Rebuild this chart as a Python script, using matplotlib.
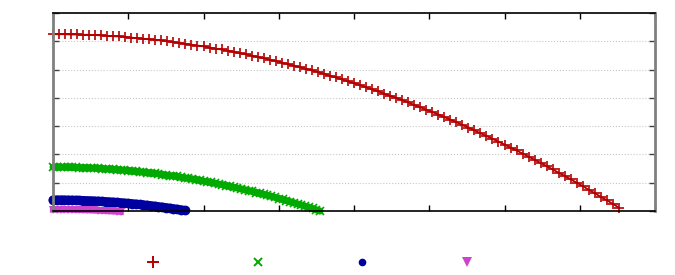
import matplotlib
matplotlib.use('Agg')
import matplotlib.pyplot as plt
from matplotlib.lines import Line2D

# series (x in axis units, y in axis units)
red_x = [0.00, 0.08, 0.16, 0.24, 0.32, 0.40, 0.48, 0.56, 0.64, 0.72,
         0.80, 0.88, 0.96, 1.04, 1.12, 1.20, 1.28, 1.36, 1.44, 1.52,
         1.60, 1.68, 1.76, 1.84, 1.92, 2.00, 2.08, 2.16, 2.24, 2.32,
         2.40, 2.48, 2.56, 2.64, 2.72, 2.80, 2.88, 2.96, 3.04, 3.12,
         3.20, 3.28, 3.36, 3.44, 3.52, 3.60, 3.68, 3.76, 3.84, 3.92,
         4.00, 4.08, 4.16, 4.24, 4.32, 4.40, 4.48, 4.56, 4.64, 4.72,
         4.80, 4.88, 4.96, 5.04, 5.12, 5.20, 5.28, 5.36, 5.44, 5.52,
         5.60, 5.68, 5.76, 5.84, 5.92, 6.00, 6.08, 6.16, 6.24, 6.32,
         6.40, 6.48, 6.56, 6.64, 6.72, 6.80, 6.88, 6.96, 7.04, 7.12,
         7.20, 7.28, 7.36, 7.44, 7.52]
red_y = [6.25, 6.25, 6.25, 6.24, 6.24, 6.23, 6.23, 6.22, 6.21, 6.19,
         6.18, 6.17, 6.15, 6.13, 6.11, 6.09, 6.07, 6.05, 6.03, 6.00,
         5.97, 5.94, 5.91, 5.88, 5.85, 5.82, 5.78, 5.74, 5.71, 5.67,
         5.63, 5.58, 5.54, 5.49, 5.45, 5.40, 5.35, 5.30, 5.25, 5.19,
         5.14, 5.08, 5.03, 4.97, 4.91, 4.85, 4.78, 4.72, 4.65, 4.58,
         4.52, 4.45, 4.37, 4.30, 4.23, 4.15, 4.07, 4.00, 3.92, 3.84,
         3.75, 3.67, 3.58, 3.50, 3.41, 3.32, 3.23, 3.14, 3.04, 2.95,
         2.85, 2.75, 2.65, 2.55, 2.45, 2.35, 2.24, 2.14, 2.03, 1.92,
         1.81, 1.70, 1.59, 1.47, 1.35, 1.24, 1.12, 1.00, 0.88, 0.75,
         0.63, 0.50, 0.38, 0.25, 0.12]

green_x = [0.00, 0.05, 0.10, 0.15, 0.20, 0.25, 0.30, 0.35, 0.40, 0.45,
           0.50, 0.55, 0.60, 0.65, 0.70, 0.75, 0.80, 0.85, 0.90, 0.95,
           1.00, 1.05, 1.10, 1.15, 1.20, 1.25, 1.30, 1.35, 1.40, 1.45,
           1.50, 1.55, 1.60, 1.65, 1.70, 1.75, 1.80, 1.85, 1.90, 1.95,
           2.00, 2.05, 2.10, 2.15, 2.20, 2.25, 2.30, 2.35, 2.40, 2.45,
           2.50, 2.55, 2.60, 2.65, 2.70, 2.75, 2.80, 2.85, 2.90, 2.95,
           3.00, 3.05, 3.10, 3.15, 3.20, 3.25, 3.30, 3.35, 3.40, 3.45,
           3.50, 3.55]
green_y = [1.55, 1.55, 1.55, 1.55, 1.55, 1.54, 1.54, 1.53, 1.53, 1.53,
           1.52, 1.51, 1.51, 1.50, 1.49, 1.48, 1.47, 1.46, 1.45, 1.44,
           1.43, 1.41, 1.40, 1.39, 1.37, 1.36, 1.34, 1.33, 1.31, 1.29,
           1.27, 1.25, 1.24, 1.22, 1.19, 1.17, 1.15, 1.13, 1.11, 1.08,
           1.06, 1.03, 1.01, 0.98, 0.95, 0.93, 0.90, 0.87, 0.84, 0.81,
           0.78, 0.75, 0.72, 0.69, 0.65, 0.62, 0.59, 0.55, 0.52, 0.48,
           0.44, 0.41, 0.37, 0.33, 0.29, 0.25, 0.21, 0.17, 0.13, 0.09,
           0.04, 0.00]

blue_x = [0.00, 0.05, 0.10, 0.15, 0.20, 0.25, 0.30, 0.35, 0.40, 0.45,
          0.50, 0.55, 0.60, 0.65, 0.70, 0.75, 0.80, 0.85, 0.90, 0.95,
          1.00, 1.05, 1.10, 1.15, 1.20, 1.25, 1.30, 1.35, 1.40, 1.45,
          1.50, 1.55, 1.60, 1.65, 1.70, 1.75]
blue_y = [0.390, 0.390, 0.389, 0.387, 0.385, 0.382, 0.379, 0.375, 0.371, 0.366,
          0.360, 0.353, 0.347, 0.339, 0.331, 0.322, 0.313, 0.303, 0.292, 0.281,
          0.269, 0.257, 0.244, 0.230, 0.216, 0.201, 0.186, 0.170, 0.153, 0.136,
          0.118, 0.100, 0.081, 0.061, 0.041, 0.020]

magenta_x = [0.00, 0.05, 0.10, 0.15, 0.20, 0.25, 0.30, 0.35, 0.40, 0.45,
             0.50, 0.55, 0.60, 0.65, 0.70, 0.75, 0.80, 0.85, 0.90]
magenta_y = [0.050, 0.050, 0.049, 0.048, 0.046, 0.044, 0.041, 0.038, 0.034, 0.030,
             0.025, 0.020, 0.014, 0.008, 0.002, -0.006, -0.013, -0.021, -0.030]

x_ticks = [0, 1, 2, 3, 4, 5, 6, 7, 8]
y_ticks = [0, 1, 2, 3, 4, 5, 6, 7]

red = '#b30000'
green = '#00aa00'
blue = '#0000a0'
magenta = '#cc44cc'

fig = plt.figure(figsize=(6.75, 2.75), dpi=100)
ax = fig.add_axes([53 / 675, 1 - 211 / 275, 602 / 675, 198 / 275])

ax.plot(red_x, red_y, color=red, lw=1.3, marker='+', ms=7, mew=1.2, clip_on=False)
ax.plot(green_x, green_y, color=green, lw=5, marker='x', ms=6, mew=1.2,
        solid_capstyle='round', clip_on=False)
ax.plot(blue_x, blue_y, color=blue, lw=6.5, marker='o', ms=7, mew=0,
        solid_capstyle='round', clip_on=False)
ax.plot(magenta_x, magenta_y, color=magenta, lw=4.5, marker='v', ms=6, mew=0,
        clip_on=False)

ax.set_xlim(0, 8)
ax.set_ylim(0, 7)
ax.set_xticks(x_ticks)
ax.set_yticks(y_ticks)
ax.set_xticklabels([])
ax.set_yticklabels([])
ax.tick_params(direction='in', length=4, width=1, top=True, right=True)
ax.tick_params(axis='y', colors='#404040')
ax.yaxis.grid(True, linestyle=':', color='#c8c8c8', lw=0.8)
ax.set_axisbelow(True)

for side in ['left', 'right']:
    ax.spines[side].set_color('#808080')
    ax.spines[side].set_linewidth(2)
for side in ['top', 'bottom']:
    ax.spines[side].set_color('black')
    ax.spines[side].set_linewidth(1.2)

handles = [
    Line2D([], [], ls='none', marker='+', color=red, ms=8, mew=1.4),
    Line2D([], [], ls='none', marker='x', color=green, ms=6, mew=1.4),
    Line2D([], [], ls='none', marker='o', color=blue, ms=5.5, mew=0),
    Line2D([], [], ls='none', marker='v', color=magenta, ms=6.5, mew=0),
]
fig.legend(handles, ['', '', '', ''], loc='center', ncol=4, frameon=False,
           bbox_to_anchor=(310 / 675, 1 - 263 / 275),
           handlelength=1, handletextpad=0, columnspacing=6.55,
           borderaxespad=0, borderpad=0)

fig.savefig('out.png', dpi=100)
